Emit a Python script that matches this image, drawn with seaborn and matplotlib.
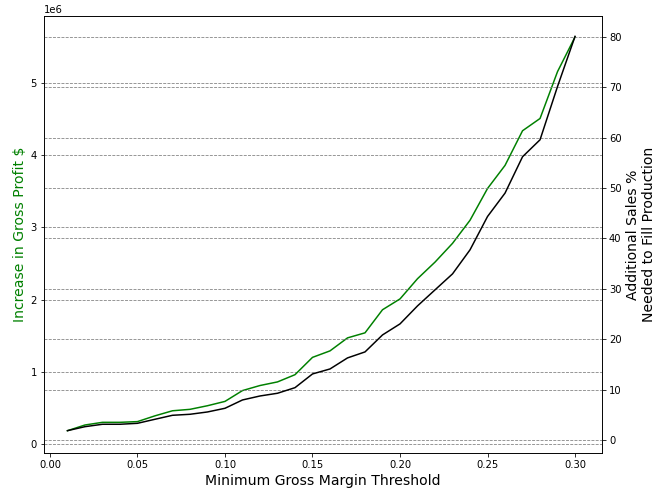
import matplotlib
matplotlib.use("Agg")
import matplotlib.pyplot as plt
import seaborn as sns
import numpy as np
import pandas as pd

thresholds = [0.01, 0.02, 0.03, 0.04, 0.05, 0.06, 0.07, 0.08, 0.09, 0.10,
              0.11, 0.12, 0.13, 0.14, 0.15, 0.16, 0.17, 0.18, 0.19, 0.20,
              0.21, 0.22, 0.23, 0.24, 0.25, 0.26, 0.27, 0.28, 0.29, 0.30]
gross_profit = [0.184e6, 0.263e6, 0.30e6, 0.30e6, 0.31e6, 0.39e6, 0.46e6, 0.48e6, 0.53e6, 0.59e6,
                0.74e6, 0.81e6, 0.86e6, 0.96e6, 1.20e6, 1.29e6, 1.47e6, 1.54e6, 1.86e6, 2.01e6,
                2.29e6, 2.52e6, 2.78e6, 3.10e6, 3.54e6, 3.86e6, 4.34e6, 4.51e6, 5.16e6, 5.64e6]
additional_sales = [1.85, 2.64, 3.12, 3.12, 3.31, 4.11, 4.90, 5.10, 5.56, 6.29,
                    7.94, 8.73, 9.27, 10.38, 13.10, 14.09, 16.28, 17.47, 20.84, 23.03,
                    26.6, 29.78, 32.95, 37.72, 44.33, 48.97, 56.18, 59.55, 70.13, 80.06]

df = pd.DataFrame({"threshold": thresholds, "profit": gross_profit, "sales": additional_sales})

plt.rcParams["font.family"] = ["DejaVu Sans"]
fig, ax = plt.subplots(figsize=(655 / 72, 494 / 72), dpi=72)
ax2 = ax.twinx()

sns.lineplot(data=df, x="threshold", y="profit", color="green", ax=ax, linewidth=1.5)
sns.lineplot(data=df, x="threshold", y="sales", color="black", ax=ax2, linewidth=1.5)

ax.set_ylim(-0.125e6, 5.93e6)
ax2.set_ylim(-2.58, 84.1)
ax.set_xlim(-0.0034, 0.3154)

ax.grid(axis="y", linestyle="--", color="gray", linewidth=0.8)
ax2.grid(axis="y", linestyle="--", color="gray", linewidth=0.8)

ax.set_xlabel("Minimum Gross Margin Threshold", fontsize=14)
ax.set_ylabel("Increase in Gross Profit $", fontsize=14, color="green")
ax2.set_ylabel("Additional Sales %\nNeeded to Fill Production", fontsize=14)

fig.subplots_adjust(left=44 / 655, right=602 / 655, top=1 - 16 / 494, bottom=1 - 453 / 494)
fig.savefig("out.png", dpi=72)
